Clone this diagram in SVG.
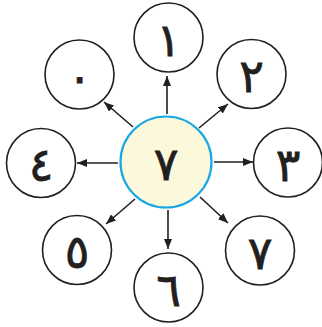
<svg xmlns="http://www.w3.org/2000/svg" width="322" height="327" viewBox="0 0 322 327">
<style>
.n{fill:#fff;stroke:#231f20;stroke-width:1.6}
.c{fill:#fbf8dc;stroke:#1aa8e2;stroke-width:2.2}
.t{font-family:"DejaVu Sans",sans-serif;font-size:46px;fill:#231f20;stroke:#231f20;stroke-width:0.8;text-anchor:middle;dominant-baseline:central}
.a{stroke:#231f20;stroke-width:1.6;fill:none;marker-end:url(#ah)}
</style>
<defs>
<marker id="ah" viewBox="0 0 10 8" refX="10" refY="4" markerWidth="10" markerHeight="8" markerUnits="userSpaceOnUse" orient="auto">
<path d="M0,0 L10,4 L0,8 Z" fill="#231f20"/>
</marker>
</defs>
<g id="connectors">
<line class="a" x1="167" y1="114" x2="167" y2="76"/>
<line class="a" x1="199" y1="128" x2="228" y2="104"/>
<line class="a" x1="214" y1="162" x2="253" y2="162"/>
<line class="a" x1="200" y1="197" x2="228" y2="223"/>
<line class="a" x1="168" y1="210" x2="168" y2="249"/>
<line class="a" x1="135" y1="199" x2="106" y2="224"/>
<line class="a" x1="118" y1="163" x2="77" y2="163"/>
<line class="a" x1="133" y1="127" x2="104" y2="102"/>
</g>
<g id="center"><circle class="c" cx="166" cy="162" r="45.5"/><text class="t" x="166" y="164">٧</text></g>
<g id="n1"><circle class="n" cx="168.5" cy="37.5" r="34.5"/><text class="t" x="168.5" y="39.5">١</text></g>
<g id="n2"><circle class="n" cx="251.5" cy="74" r="34.5"/><text class="t" x="251.5" y="76">٢</text></g>
<g id="n3"><circle class="n" cx="288" cy="162.5" r="34.5"/><text class="t" x="288" y="164.5">٣</text></g>
<g id="n7"><circle class="n" cx="260" cy="250.5" r="34.5"/><text class="t" x="260" y="252.5">٧</text></g>
<g id="n6"><circle class="n" cx="168.5" cy="287.5" r="34.5"/><text class="t" x="168.5" y="289.5">٦</text></g>
<g id="n5"><circle class="n" cx="77" cy="250" r="34.5"/><text class="t" x="77" y="252">٥</text></g>
<g id="n4"><circle class="n" cx="41" cy="163" r="34.5"/><text class="t" x="41" y="165">٤</text></g>
<g id="n0"><circle class="n" cx="79.5" cy="74.5" r="34.5"/><text class="t" x="79.5" y="76.5">٠</text></g>
</svg>
